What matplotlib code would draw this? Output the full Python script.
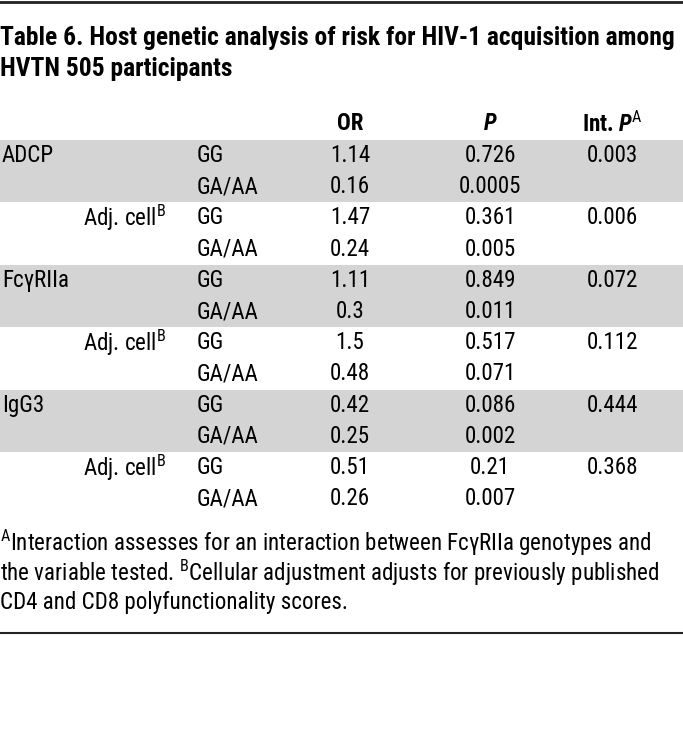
import matplotlib
matplotlib.use("Agg")
import matplotlib.pyplot as plt
from matplotlib import font_manager as fm
from matplotlib.patches import Rectangle

# pick a narrow face if one is installed, else plain sans
available = {f.name for f in fm.fontManager.ttflist}
narrow = [n for n in ["Roboto Condensed", "Liberation Sans Narrow", "Open Sans Condensed"]
          if n in available]
BASE = narrow[0] if narrow else "Roboto"
plt.rcParams["font.family"] = [BASE, "Liberation Sans", "DejaVu Sans"]
plt.rcParams["mathtext.fontset"] = "custom"
plt.rcParams["mathtext.rm"] = BASE
plt.rcParams["mathtext.it"] = BASE + ":italic"
plt.rcParams["mathtext.bf"] = BASE + ":bold"
plt.rcParams["mathtext.bfit"] = BASE + ":bold:italic"

# table content
title = ["Table 6. Host genetic analysis of risk for HIV-1 acquisition among",
         "HVTN 505 participants"]
headers = ["OR", r"$\mathbfit{P}$", r"Int. $\mathbfit{P}^{\mathrm{A}}$"]
variables = ["ADCP", "", "FcγRIIa", "", "IgG3", ""]
adjust = ["", r"Adj. cell$^{\mathrm{B}}$", "", r"Adj. cell$^{\mathrm{B}}$", "",
          r"Adj. cell$^{\mathrm{B}}$"]
genotypes = ["GG", "GA/AA"]
odds_ratio = [["1.14", "0.16"], ["1.47", "0.24"], ["1.11", "0.3"],
              ["1.5", "0.48"], ["0.42", "0.25"], ["0.51", "0.26"]]
p_value = [["0.726", "0.0005"], ["0.361", "0.005"], ["0.849", "0.011"],
           ["0.517", "0.071"], ["0.086", "0.002"], ["0.21", "0.007"]]
int_p = ["0.003", "0.006", "0.072", "0.112", "0.444", "0.368"]
footnote = [r"$^{\mathrm{A}}$Interaction assesses for an interaction between FcγRIIa genotypes and",
            r"the variable tested. $^{\mathrm{B}}$Cellular adjustment adjusts for previously published",
            "CD4 and CD8 polyfunctionality scores."]

W, H = 683, 732
fig = plt.figure(figsize=(W / 100, H / 100), dpi=100)
ax = fig.add_axes([0, 0, 1, 1])
ax.set_xlim(0, W)
ax.set_ylim(H, 0)
ax.axis("off")
renderer = fig.canvas.get_renderer()


def fit_size(text, target_px, weight="normal", start=18):
    # scale the font size so the line spans about target_px
    t = ax.text(0, 0, text, fontsize=start, fontweight=weight)
    w = t.get_window_extent(renderer).width
    t.remove()
    return start * target_px / w


title_fs = min(20, fit_size(title[0], 674, "bold"))
body_fs = min(17, fit_size(footnote[1], 660))

# rules
ax.plot([0, W], [1.5, 1.5], color="#222222", lw=2)
ax.plot([0, W], [632.5, 632.5], color="#222222", lw=1.5)

for i, line in enumerate(title):
    ax.text(0, 38 + i * 31, line, fontsize=title_fs, fontweight="bold", va="center", ha="left")

col_x = [350, 490, 612]
for x, h in zip(col_x, headers):
    ax.text(x, 124, h, fontsize=body_fs, fontweight="bold", va="center", ha="center")

top = 140
row_h = 31.2
for g in range(len(variables)):
    y0 = top + g * 2 * row_h
    if g % 2 == 0:
        ax.add_patch(Rectangle((0, y0), W, 2 * row_h, color="#d4d4d4", lw=0))
    yc = y0 + row_h / 2
    ax.text(2, yc, variables[g], fontsize=body_fs, va="center")
    ax.text(83, yc, adjust[g], fontsize=body_fs, va="center")
    ax.text(col_x[2], yc, int_p[g], fontsize=body_fs, va="center", ha="center")
    for k in range(2):
        yk = yc + k * row_h
        ax.text(197, yk, genotypes[k], fontsize=body_fs, va="center")
        ax.text(col_x[0], yk, odds_ratio[g][k], fontsize=body_fs, va="center", ha="center")
        ax.text(col_x[1], yk, p_value[g][k], fontsize=body_fs, va="center", ha="center")

for i, line in enumerate(footnote):
    ax.text(0, 543 + i * 30, line, fontsize=body_fs, va="center")

fig.savefig("out.png", dpi=100)
